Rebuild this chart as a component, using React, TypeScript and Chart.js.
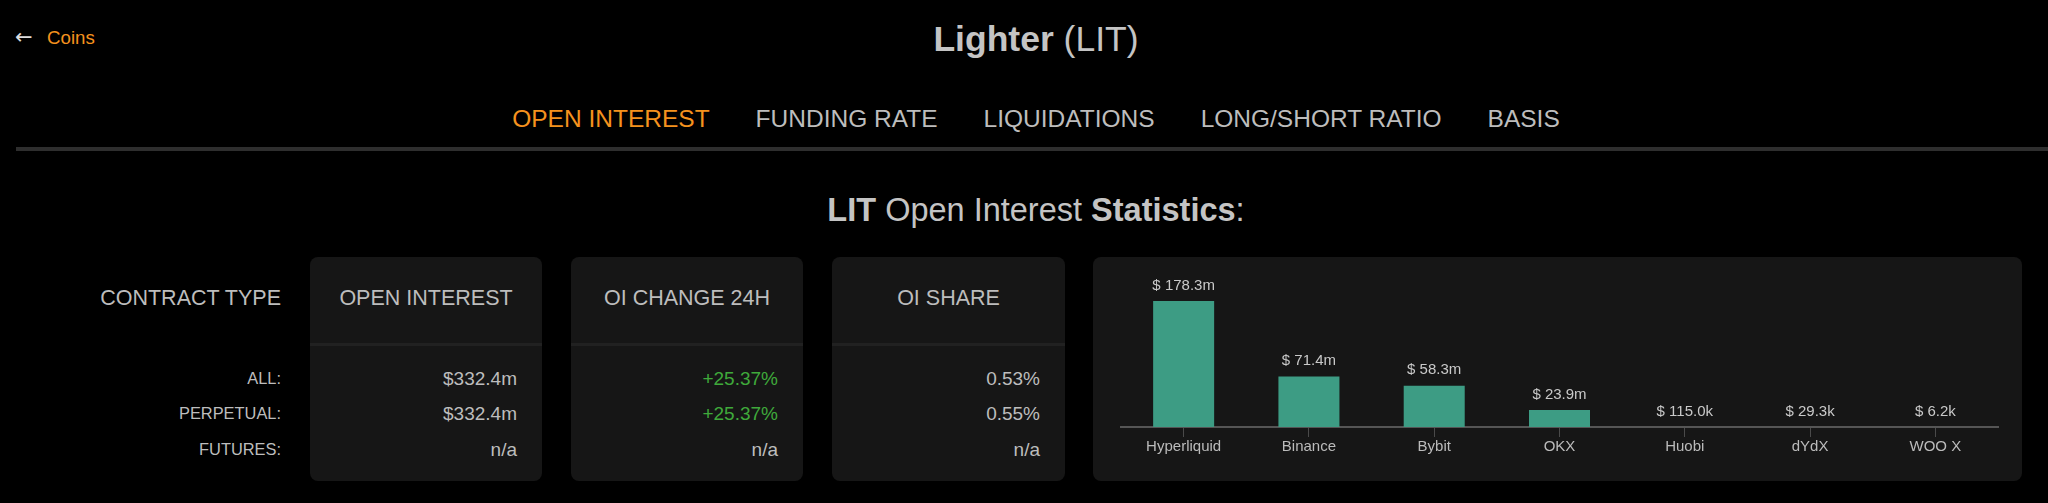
import React, { useEffect, useRef } from "react";
import { Chart, registerables } from "chart.js";

Chart.register(...registerables);

const exchanges = ["Hyperliquid", "Binance", "Bybit", "OKX", "Huobi", "dYdX", "WOO X"];
const oiMillions = [178.3, 71.4, 58.3, 23.9, 0.115, 0.0293, 0.0062];

const navTabs = ["OPEN INTEREST", "FUNDING RATE", "LIQUIDATIONS", "LONG/SHORT RATIO", "BASIS"];
const contractTypes = ["ALL:", "PERPETUAL:", "FUTURES:"];
const openInterestVals = ["$332.4m", "$332.4m", "n/a"];
const oiChangeVals = ["+25.37%", "+25.37%", "n/a"];
const oiShareVals = ["0.53%", "0.55%", "n/a"];

const FONT = '"Liberation Sans", Arial, Helvetica, sans-serif';
const GRAY = "#bdbdbd";
const ORANGE = "#f5921e";
const GREEN = "#3fa93b";
const CARD_BG = "#161616";

function fmt(v: number): string {
  if (v >= 1) return `$ ${v.toFixed(1)}m`;
  return `$ ${(v * 1000).toFixed(1)}k`;
}

type TProps = {
  x: number;
  y: number;
  size: number;
  align?: "left" | "center" | "right";
  color?: string;
  family?: string;
  children: React.ReactNode;
};

function T({ x, y, size, align = "left", color = GRAY, family = FONT, children }: TProps) {
  const tx = align === "left" ? "0" : align === "center" ? "-50%" : "-100%";
  return (
    <div
      style={{
        position: "absolute",
        left: x,
        top: y - size / 2,
        fontSize: size,
        lineHeight: `${size}px`,
        color,
        whiteSpace: "nowrap",
        transform: `translateX(${tx})`,
        fontFamily: family,
      }}
    >
      {children}
    </div>
  );
}

const CARD_TOP = 257;
const CARD_H = 224;

function Card({ left, width }: { left: number; width: number }) {
  return (
    <div
      style={{
        position: "absolute",
        left,
        top: CARD_TOP,
        width,
        height: CARD_H,
        background: CARD_BG,
        borderRadius: 8,
      }}
    >
      <div style={{ position: "absolute", left: 0, right: 0, top: 343 - CARD_TOP, height: 3, background: "#212121" }} />
    </div>
  );
}

const rowYs = [378, 413, 449];

function BarChart() {
  const ref = useRef<HTMLCanvasElement | null>(null);
  useEffect(() => {
    if (!ref.current) return;
    const labelPlugin = {
      id: "valueLabels",
      afterDatasetsDraw(chart: any) {
        const ctx = chart.ctx;
        const meta = chart.getDatasetMeta(0);
        ctx.save();
        ctx.font = `15px ${FONT}`;
        ctx.fillStyle = "#c9c9c9";
        ctx.textAlign = "center";
        ctx.textBaseline = "bottom";
        meta.data.forEach((el: any, i: number) => {
          ctx.fillText(fmt(oiMillions[i]), el.x, el.y - 8);
        });
        ctx.restore();
      },
    };
    const chart = new Chart(ref.current, {
      type: "bar",
      data: {
        labels: exchanges,
        datasets: [
          {
            data: oiMillions,
            backgroundColor: "#3d9c84",
            borderWidth: 0,
            categoryPercentage: 1,
            barPercentage: 0.487,
          },
        ],
      },
      options: {
        responsive: false,
        animation: false,
        devicePixelRatio: 1,
        layout: { padding: { left: 28, right: 24, top: 44, bottom: 0 } },
        plugins: { legend: { display: false }, tooltip: { enabled: false } },
        scales: {
          x: {
            afterFit: (scale: any) => {
              scale.height = 54;
            },
            grid: {
              display: true,
              drawOnChartArea: false,
              drawTicks: true,
              offset: false,
              tickLength: 10,
              color: "#4a4a4a",
              lineWidth: 1,
            },
            border: { display: true, color: "#555555", width: 2 },
            ticks: {
              color: "#bbbbbb",
              font: { family: FONT, size: 15 },
              padding: 1,
              maxRotation: 0,
              autoSkip: false,
            },
          },
          y: {
            display: false,
            min: 0,
            max: Math.max(...oiMillions),
          },
        },
      },
      plugins: [labelPlugin],
    });
    return () => chart.destroy();
  }, []);
  return <canvas ref={ref} width={929} height={CARD_H} style={{ display: "block", width: 929, height: CARD_H }} />;
}

export default function App() {
  const cards = [
    { left: 310, width: 232, title: "OPEN INTEREST", vals: openInterestVals, color: GRAY },
    { left: 571, width: 232, title: "OI CHANGE 24H", vals: oiChangeVals, color: GREEN },
    { left: 832, width: 233, title: "OI SHARE", vals: oiShareVals, color: GRAY },
  ];
  return (
    <div
      style={{
        position: "fixed",
        left: 0,
        top: 0,
        width: 2048,
        height: 503,
        background: "#000",
        overflow: "hidden",
        fontFamily: FONT,
      }}
    >
      <T x={15} y={37} size={21} color="#dddddd" family='"DejaVu Sans", sans-serif'>
        ←
      </T>
      <T x={47} y={38} size={18.7} color={ORANGE}>
        Coins
      </T>
      <T x={1036} y={40} size={35.5} align="center" color="#c4c4c4">
        <b>Lighter</b> (LIT)
      </T>
      <div
        style={{
          position: "absolute",
          left: 1036,
          top: 119 - 12,
          transform: "translateX(-50%)",
          display: "flex",
          gap: 46,
          fontSize: 24.5,
          lineHeight: "24px",
          whiteSpace: "nowrap",
          fontFamily: FONT,
        }}
      >
        {navTabs.map((t, i) => (
          <span key={t} style={{ color: i === 0 ? ORANGE : GRAY }}>
            {t}
          </span>
        ))}
      </div>
      <div style={{ position: "absolute", left: 16, top: 147, width: 2032, height: 4, background: "#2e2e2e" }} />
      <T x={1036} y={210} size={32.5} align="center" color="#c4c4c4">
        <b>LIT</b> Open Interest <b>Statistics</b>:
      </T>

      <T x={281} y={299} size={21.5} align="right">
        CONTRACT TYPE
      </T>
      {contractTypes.map((c, i) => (
        <T key={c} x={281} y={rowYs[i]} size={16.4} align="right">
          {c}
        </T>
      ))}

      {cards.map((c) => (
        <React.Fragment key={c.title}>
          <Card left={c.left} width={c.width} />
          <T x={c.left + c.width / 2} y={299} size={21.5} align="center">
            {c.title}
          </T>
          {c.vals.map((v, i) => (
            <T key={i} x={c.left + c.width - 25} y={rowYs[i]} size={19} align="right" color={v === "n/a" ? GRAY : c.color}>
              {v}
            </T>
          ))}
        </React.Fragment>
      ))}

      <div
        style={{
          position: "absolute",
          left: 1093,
          top: CARD_TOP,
          width: 929,
          height: CARD_H,
          background: CARD_BG,
          borderRadius: 8,
          overflow: "hidden",
        }}
      >
        <BarChart />
      </div>
    </div>
  );
}
